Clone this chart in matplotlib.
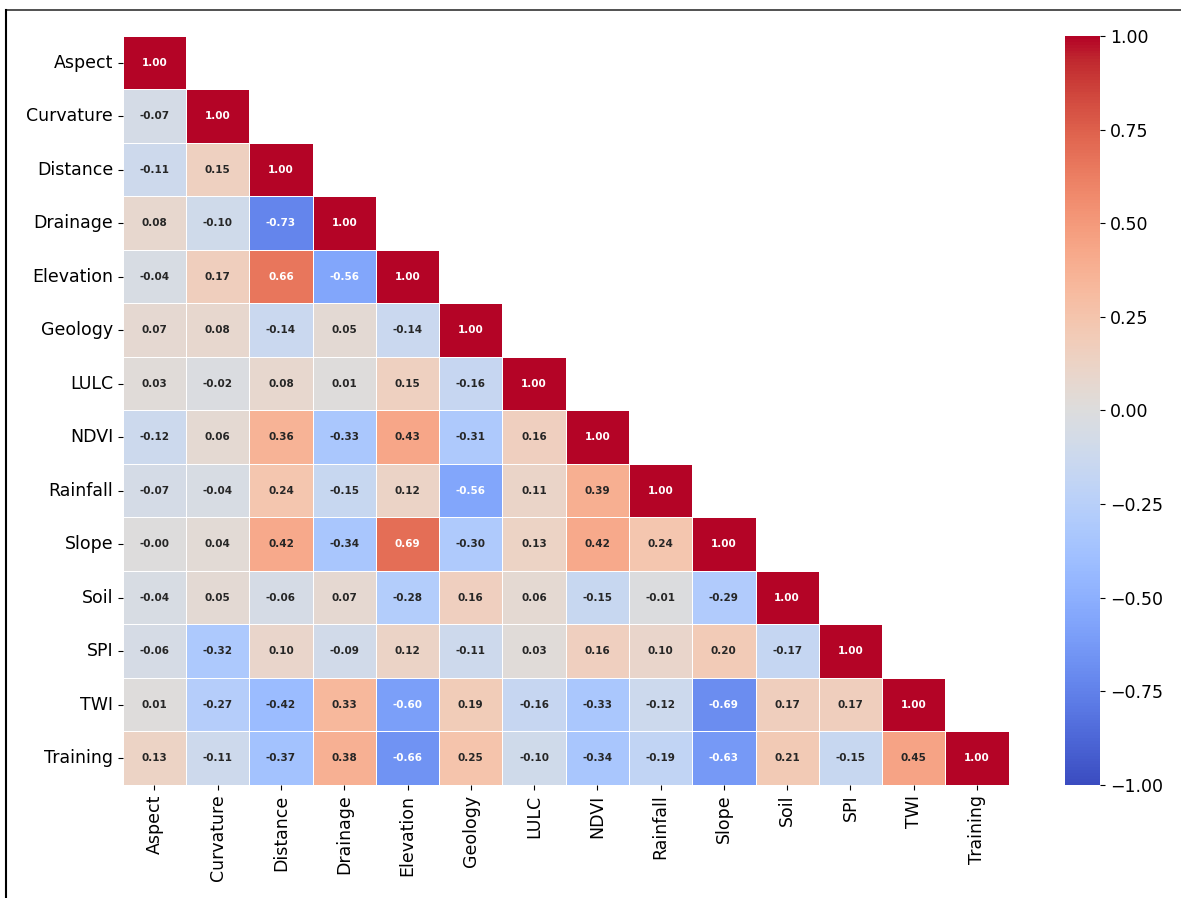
import numpy as np
import pandas as pd
import matplotlib
matplotlib.use("Agg")
import matplotlib.pyplot as plt
import seaborn as sns
from matplotlib.lines import Line2D

# factor names (rows and columns)
factors = ["Aspect", "Curvature", "Distance", "Drainage", "Elevation", "Geology",
           "LULC", "NDVI", "Rainfall", "Slope", "Soil", "SPI", "TWI", "Training"]

# lower triangle of the correlation matrix, row by row
aspect = [1.00]
curvature = [-0.07, 1.00]
distance = [-0.11, 0.15, 1.00]
drainage = [0.08, -0.10, -0.73, 1.00]
elevation = [-0.04, 0.17, 0.66, -0.56, 1.00]
geology = [0.07, 0.08, -0.14, 0.05, -0.14, 1.00]
lulc = [0.03, -0.02, 0.08, 0.01, 0.15, -0.16, 1.00]
ndvi = [-0.12, 0.06, 0.36, -0.33, 0.43, -0.31, 0.16, 1.00]
rainfall = [-0.07, -0.04, 0.24, -0.15, 0.12, -0.56, 0.11, 0.39, 1.00]
slope = [-0.0, 0.04, 0.42, -0.34, 0.69, -0.30, 0.13, 0.42, 0.24, 1.00]
soil = [-0.04, 0.05, -0.06, 0.07, -0.28, 0.16, 0.06, -0.15, -0.01, -0.29, 1.00]
spi = [-0.06, -0.32, 0.10, -0.09, 0.12, -0.11, 0.03, 0.16, 0.10, 0.20, -0.17, 1.00]
twi = [0.01, -0.27, -0.42, 0.33, -0.60, 0.19, -0.16, -0.33, -0.12, -0.69, 0.17, 0.17, 1.00]
training = [0.13, -0.11, -0.37, 0.38, -0.66, 0.25, -0.10, -0.34, -0.19, -0.63, 0.21, -0.15, 0.45, 1.00]

rows = [aspect, curvature, distance, drainage, elevation, geology, lulc,
        ndvi, rainfall, slope, soil, spi, twi, training]

# build the full symmetric matrix
n = len(factors)
mat = np.zeros((n, n))
for i, r in enumerate(rows):
    for j, v in enumerate(r):
        mat[i, j] = v
        mat[j, i] = v
corr = pd.DataFrame(mat, index=factors, columns=factors)
mask = np.triu(np.ones((n, n), dtype=bool), k=1)

fig = plt.figure(figsize=(11.81, 8.98), dpi=100)
ax = fig.add_axes([0.104, 0.126, 0.750, 0.834])
cax = fig.add_axes([0.902, 0.126, 0.0296, 0.834])

sns.heatmap(corr, mask=mask, annot=True, fmt=".2f", cmap="coolwarm",
            vmin=-1, vmax=1, linewidths=0.5, linecolor="white",
            annot_kws={"size": 7.5, "weight": "bold"},
            ax=ax, cbar_ax=cax)

ax.tick_params(axis="both", labelsize=12.5)
plt.setp(ax.get_xticklabels(), rotation=90)
plt.setp(ax.get_yticklabels(), rotation=0)
cax.tick_params(labelsize=12.5)
cax.set_yticks([-1, -0.75, -0.5, -0.25, 0, 0.25, 0.5, 0.75, 1])
cax.set_yticklabels(["\u22121.00", "\u22120.75", "\u22120.50", "\u22120.25", "0.00",
                     "0.25", "0.50", "0.75", "1.00"])

# screenshot frame on top and left
fig.add_artist(Line2D([0.005, 1.0], [0.989, 0.989], color="#333333", lw=1.2))
fig.add_artist(Line2D([0.005, 0.005], [0.0, 0.989], color="black", lw=1.5))

fig.savefig("out.png", dpi=100)
